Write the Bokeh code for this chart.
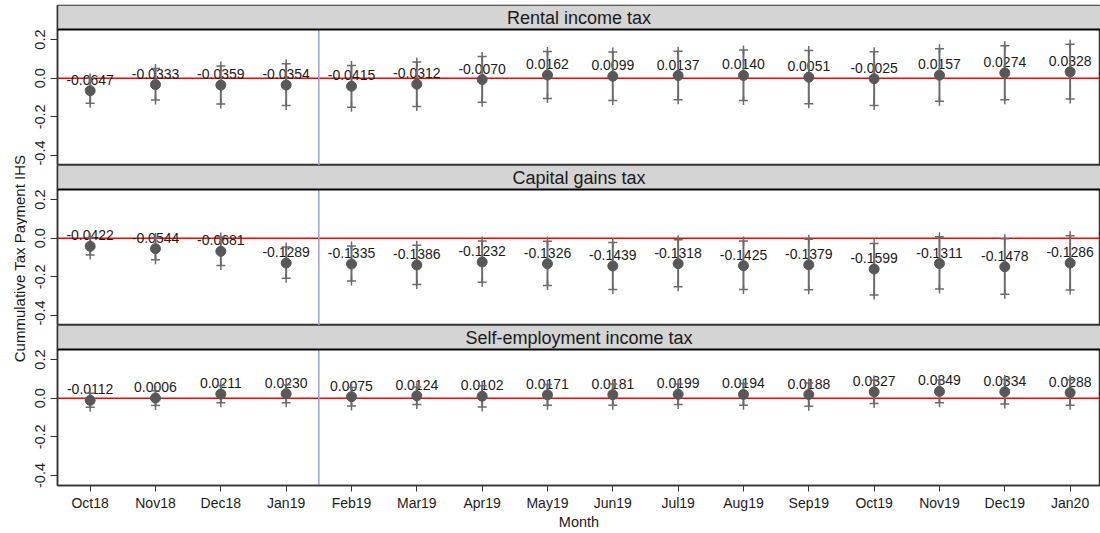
from bokeh.plotting import figure
from bokeh.models import (ColumnDataSource, Span, FixedTicker, Range1d, Label,
                          BoxAnnotation, NumeralTickFormatter)
from bokeh.layouts import column, row
from bokeh.embed import file_html
from bokeh.resources import INLINE
from bokeh.core.properties import value

# ---------------- data ----------------
months = ["Oct18", "Nov18", "Dec18", "Jan19", "Feb19", "Mar19", "Apr19", "May19",
          "Jun19", "Jul19", "Aug19", "Sep19", "Oct19", "Nov19", "Dec19", "Jan20"]

panel_titles = ["Rental income tax", "Capital gains tax", "Self-employment income tax"]

rental_est = [-0.0647, -0.0333, -0.0359, -0.0354, -0.0415, -0.0312, -0.0070, 0.0162,
              0.0099, 0.0137, 0.0140, 0.0051, -0.0025, 0.0157, 0.0274, 0.0328]
rental_lo = [-0.130, -0.113, -0.133, -0.142, -0.151, -0.146, -0.125, -0.105,
             -0.116, -0.111, -0.116, -0.132, -0.142, -0.120, -0.111, -0.108]
rental_hi = [0.001, 0.050, 0.063, 0.075, 0.066, 0.084, 0.112, 0.138,
             0.136, 0.140, 0.146, 0.143, 0.137, 0.153, 0.168, 0.176]

capital_est = [-0.0422, -0.0544, -0.0681, -0.1289, -0.1335, -0.1386, -0.1232, -0.1326,
               -0.1439, -0.1318, -0.1425, -0.1379, -0.1599, -0.1311, -0.1478, -0.1286]
capital_lo = [-0.087, -0.112, -0.142, -0.207, -0.222, -0.240, -0.228, -0.245,
              -0.266, -0.251, -0.266, -0.267, -0.294, -0.263, -0.290, -0.268]
capital_hi = [0.003, 0.003, 0.006, -0.045, -0.040, -0.037, -0.015, -0.016,
              -0.022, -0.008, -0.015, -0.005, -0.028, 0.008, -0.003, 0.012]

self_est = [-0.0112, 0.0006, 0.0211, 0.0230, 0.0075, 0.0124, 0.0102, 0.0171,
            0.0181, 0.0199, 0.0194, 0.0188, 0.0327, 0.0349, 0.0334, 0.0288]
self_lo = [-0.047, -0.038, -0.024, -0.024, -0.040, -0.033, -0.045, -0.037,
           -0.037, -0.033, -0.037, -0.042, -0.028, -0.024, -0.030, -0.037]
self_hi = [0.025, 0.039, 0.066, 0.070, 0.055, 0.058, 0.065, 0.071,
           0.073, 0.073, 0.076, 0.079, 0.094, 0.094, 0.097, 0.095]

y_ticks = [-0.4, -0.2, 0.0, 0.2]
treatment_after = "Jan19"   # reform line drawn between Jan19 and Feb19
y_title = "Cummulative Tax Payment IHS"
x_title = "Month"

# ---------------- style ----------------
FONT = "Liberation Sans"
Y_LO, Y_HI = -0.452, 0.252
X_LO, X_HI = 0.5, 16.465
PLOT_PX = 136
STRIP_PX = 24
TOP_PAD = 5
BOTTOM_PX = 45
TITLE_W = 27
LEFT_PX = 30
FRAME_W = 1043
PX_PER_UNIT = PLOT_PX / (Y_HI - Y_LO)
STRIP_BG = "#d4d4d4"
DARK = "#333333"
TXT = "#1a1a1a"
ERR = "#6b6b6b"

x_idx = list(range(1, len(months) + 1))
vline_x = months.index(treatment_after) + 1.5


def make_panel(title, est, lo, hi, top_pad=0, show_x=False):
    y_top = Y_HI + STRIP_PX / PX_PER_UNIT
    p = figure(frame_width=FRAME_W, frame_height=PLOT_PX + STRIP_PX,
               x_range=Range1d(X_LO, X_HI), y_range=Range1d(Y_LO, y_top),
               output_backend="svg", toolbar_location=None,
               x_axis_location="below" if show_x else None,
               min_border_left=LEFT_PX, min_border_right=0, min_border_top=top_pad,
               min_border_bottom=BOTTOM_PX if show_x else 0)
    p.background_fill_color = "white"
    p.border_fill_color = "white"
    p.grid.visible = False
    p.outline_line_color = DARK
    p.outline_line_width = 1.5

    # strip
    p.add_layout(BoxAnnotation(bottom=Y_HI, fill_color=STRIP_BG, fill_alpha=1.0,
                               line_color=None, level="underlay"))
    p.add_layout(Span(location=Y_HI, dimension="width", line_color="black",
                      line_width=2))
    p.add_layout(Label(x=(X_LO + X_HI) / 2, y=Y_HI + STRIP_PX / 2 / PX_PER_UNIT,
                       text=title, text_align="center", text_baseline="middle",
                       text_font=FONT, text_font_size="18px", text_color=TXT))

    # reference lines
    p.add_layout(Span(location=0, dimension="width", line_color="#ff0000",
                      line_width=1.5, level="underlay"))
    p.segment(x0=[vline_x], y0=[Y_LO], x1=[vline_x], y1=[Y_HI],
              line_color="#9d9de3", line_width=1.5)

    src = ColumnDataSource(dict(x=x_idx, est=est, lo=lo, hi=hi,
                                label=["%.4f" % v for v in est]))
    p.text(x="x", y="est", text="label", source=src, text_align="center",
           text_baseline="alphabetic", y_offset=-11, text_font=value(FONT),
           text_font_size="14px", text_color=TXT)
    p.segment(x0="x", y0="lo", x1="x", y1="hi", source=src,
              line_color=ERR, line_width=2)
    p.scatter(x="x", y="lo", source=src, marker="cross", size=9,
              line_color=ERR, line_width=1.5)
    p.scatter(x="x", y="hi", source=src, marker="cross", size=9,
              line_color=ERR, line_width=1.5)
    p.scatter(x="x", y="est", source=src, marker="circle", size=10,
              fill_color="#585858", line_color="#585858")

    # y axis
    ya = p.yaxis[0]
    ya.ticker = FixedTicker(ticks=y_ticks)
    ya.formatter = NumeralTickFormatter(format="0.0")
    ya.major_label_orientation = "vertical"
    ya.major_label_text_font = FONT
    ya.major_label_text_font_size = "14.5px"
    ya.major_label_text_color = TXT
    ya.major_label_standoff = 5
    ya.major_tick_out = 7
    ya.major_tick_in = 0
    ya.minor_tick_out = 0
    ya.minor_tick_in = 0
    ya.axis_line_color = DARK
    ya.axis_line_width = 1.5
    ya.major_tick_line_color = DARK

    if show_x:
        xa = p.xaxis[0]
        xa.ticker = FixedTicker(ticks=x_idx)
        xa.major_label_overrides = {i: m for i, m in zip(x_idx, months)}
        xa.major_label_text_font = FONT
        xa.major_label_text_font_size = "14px"
        xa.major_label_text_color = TXT
        xa.major_label_standoff = 3
        xa.major_tick_out = 6
        xa.major_tick_in = 0
        xa.minor_tick_out = 0
        xa.minor_tick_in = 0
        xa.axis_line_color = DARK
        xa.axis_line_width = 1.5
        xa.major_tick_line_color = DARK
        xa.axis_label = x_title
        xa.axis_label_text_font = FONT
        xa.axis_label_text_font_size = "14.5px"
        xa.axis_label_text_font_style = "normal"
        xa.axis_label_text_color = TXT
        xa.axis_label_standoff = 0
    return p


p1 = make_panel(panel_titles[0], rental_est, rental_lo, rental_hi, top_pad=TOP_PAD)
p2 = make_panel(panel_titles[1], capital_est, capital_lo, capital_hi)
p3 = make_panel(panel_titles[2], self_est, self_lo, self_hi, show_x=True)

# shared y-axis title in its own narrow strip on the left
H = TOP_PAD + 3 * (PLOT_PX + STRIP_PX) + BOTTOM_PX
tf = figure(frame_width=TITLE_W, frame_height=H, x_range=Range1d(0, TITLE_W),
            y_range=Range1d(0, H), output_backend="svg", toolbar_location=None,
            x_axis_location=None, y_axis_location=None, min_border=0)
tf.outline_line_color = None
tf.grid.visible = False
tf.border_fill_color = "white"
tf.add_layout(Label(x=19, y=H - 258, text=y_title, angle=90, angle_units="deg",
                    text_align="center", text_baseline="middle", text_font=FONT,
                    text_font_size="15px", text_color=TXT))

layout = row(tf, column(p1, p2, p3, spacing=0), spacing=0)
open("out.html", "w").write(file_html(layout, INLINE))
